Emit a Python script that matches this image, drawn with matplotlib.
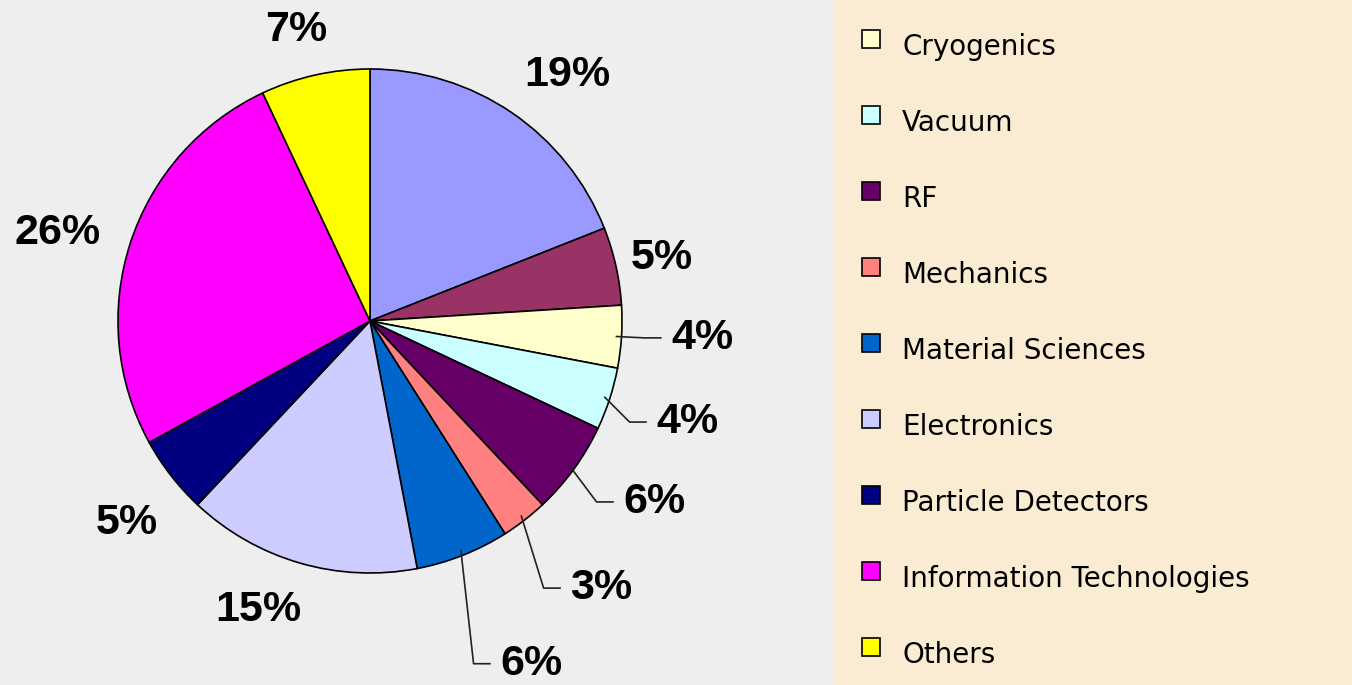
import matplotlib
matplotlib.use("Agg")
import matplotlib.pyplot as plt
from matplotlib.patches import Rectangle
import numpy as np

# ---- data ----
slice_names = ["Unlisted A", "Unlisted B", "Cryogenics", "Vacuum", "RF", "Mechanics",
               "Material Sciences", "Electronics", "Particle Detectors",
               "Information Technologies", "Others"]
slice_values = [19, 5, 4, 4, 6, 3, 6, 15, 5, 26, 7]
slice_colors = ["#9999FF", "#993366", "#FFFFCC", "#CCFFFF", "#660066", "#FF8080",
                "#0066CC", "#CCCCFF", "#000080", "#FF00FF", "#FFFF00"]
legend_names = ["Cryogenics", "Vacuum", "RF", "Mechanics", "Material Sciences",
                "Electronics", "Particle Detectors", "Information Technologies", "Others"]

# label layout (data units, pie radius = 1); leader flag
label_pos = [(0.782, 0.976), (1.159, 0.25), (1.194, -0.067), (1.135, -0.401),
             (1.004, -0.718), (0.794, -1.06), (0.516, -1.36), (-0.444, -1.147),
             (-0.964, -0.802), (-1.238, 0.349), (-0.294, 1.155)]
has_leader = [False, False, True, True, True, True, True, False, False, False, False]

W, H, DPI = 1352, 685, 100
fig = plt.figure(figsize=(W / DPI, H / DPI), dpi=DPI)
fig.patch.set_facecolor("#FAECD3")

panel_w = 833
cx, cy, R = 370, 364, 252  # pixel layout of pie (y from bottom)
ax = fig.add_axes([0, 0, panel_w / W, 1])
ax.add_patch(Rectangle((-cx / R, -cy / R), panel_w / R, H / R, facecolor="#EEEEEE",
                       edgecolor="none", zorder=0))

wedges, _ = ax.pie(slice_values, colors=slice_colors, startangle=90, counterclock=False,
                   radius=1.0, center=(0, 0), frame=True,
                   wedgeprops=dict(edgecolor="black", linewidth=1.2))
ax.set_aspect("equal")
ax.set_xlim(-cx / R, (panel_w - cx) / R)
ax.set_ylim(-cy / R, (H - cy) / R)
ax.axis("off")

label_font = dict(family=["Liberation Sans Narrow", "Liberation Sans", "DejaVu Sans"],
                  fontweight="bold", fontsize=31, color="black")
total = sum(slice_values)
for w, v, (lx, ly), lead in zip(wedges, slice_values, label_pos, has_leader):
    txt = f"{round(100 * v / total)}%"
    if lead:
        mid = np.deg2rad((w.theta1 + w.theta2) / 2)
        sx, sy = 0.98 * np.cos(mid), 0.98 * np.sin(mid)
        ex = lx - 0.04
        bx = ex - 0.065
        ax.plot([sx, bx, ex], [sy, ly, ly], color="#222222", lw=1.2, zorder=5)
        ax.text(lx, ly, txt, ha="left", va="center", **label_font)
    else:
        ax.text(lx, ly, txt, ha="center", va="center", **label_font)

# ---- legend panel (right) ----
color_of = dict(zip(slice_names, slice_colors))
row0, step = 47, 76
for i, name in enumerate(legend_names):
    yc = H - (row0 + i * step)
    ms = 18
    fig.patches.append(Rectangle(((871 - ms / 2) / W, (yc + 8 - ms / 2) / H), ms / W, ms / H,
                                 transform=fig.transFigure, facecolor=color_of[name],
                                 edgecolor="black", linewidth=1.2))
    fig.text(902 / W, yc / H, name, ha="left", va="center", fontsize=20,
             family=["DejaVu Sans"], color="black")

fig.savefig("out.png", dpi=DPI, facecolor=fig.get_facecolor())
